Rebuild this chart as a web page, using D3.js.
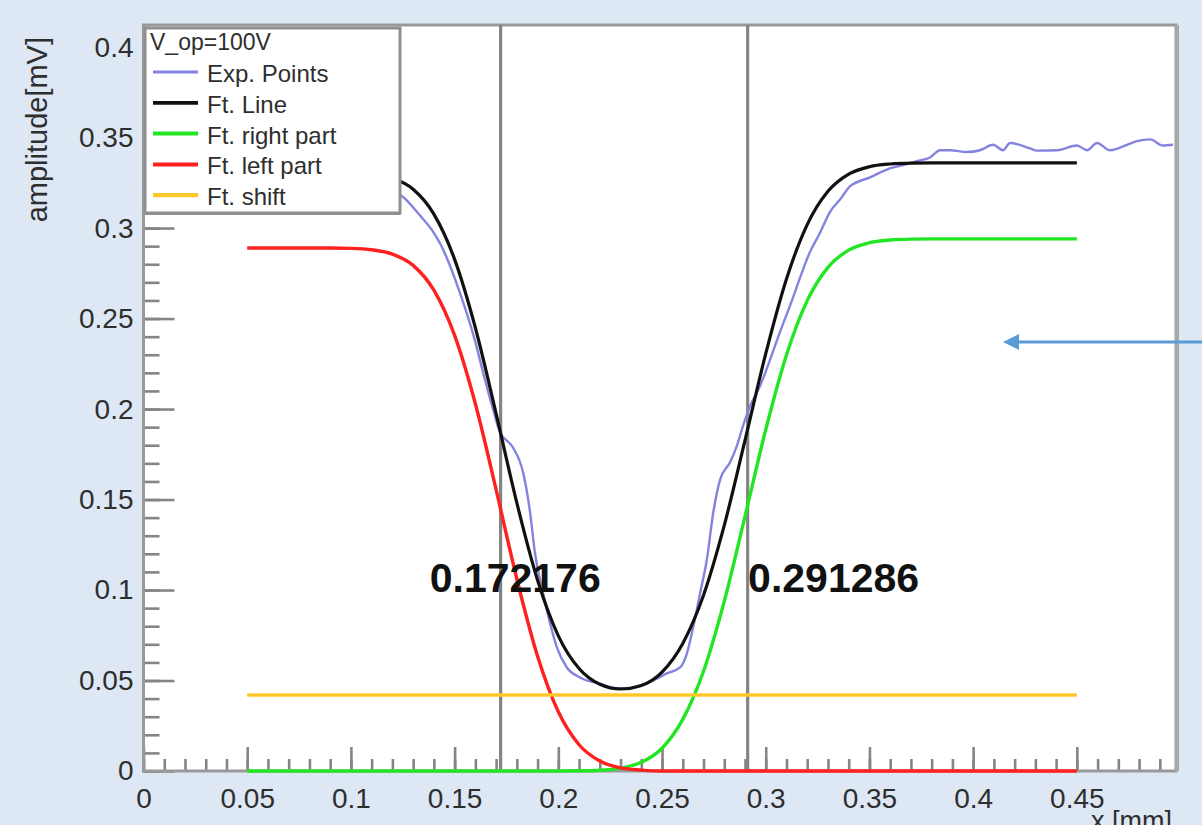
<!DOCTYPE html>
<html>
<head>
<meta charset="utf-8">
<script src="https://cdn.jsdelivr.net/npm/d3@7.9.0/dist/d3.min.js"></script>
<style>
  html, body { margin: 0; padding: 0; background: #dde8f4; }
  svg { display: block; font-family: "Liberation Sans", Arial, sans-serif; }
</style>
</head>
<body>
<svg id="chart" width="1202" height="825"></svg>
<script>
// ---------- data ----------
const xTicks = [0, 0.05, 0.1, 0.15, 0.2, 0.25, 0.3, 0.35, 0.4, 0.45];
const yTicks = [0, 0.05, 0.1, 0.15, 0.2, 0.25, 0.3, 0.35, 0.4];

// Exp. Points (noisy measured curve)
const expX = [0, 0.01, 0.02, 0.03, 0.04, 0.05, 0.06, 0.07, 0.08, 0.09, 0.1, 0.11, 0.118,
  0.1242, 0.1333, 0.1396, 0.1434, 0.1526, 0.16, 0.1645, 0.1685, 0.1719, 0.178, 0.183,
  0.1864, 0.1887, 0.1927, 0.196, 0.1993, 0.2041, 0.2104, 0.22, 0.2283, 0.236, 0.2457,
  0.2523, 0.2587, 0.262, 0.265, 0.2683, 0.2716, 0.2747, 0.278, 0.2828, 0.286, 0.289,
  0.2925, 0.2973, 0.302, 0.307, 0.312, 0.317, 0.321, 0.326, 0.331, 0.336, 0.3406,
  0.3503, 0.3599, 0.3671, 0.3729, 0.3792, 0.384, 0.3888, 0.397, 0.4033, 0.4096, 0.4144,
  0.4178, 0.4274, 0.4308, 0.4405, 0.4501, 0.4549, 0.4597, 0.466, 0.4742, 0.479, 0.4853,
  0.4915, 0.4964];
const expY = [0.322, 0.324, 0.323, 0.325, 0.324, 0.326, 0.325, 0.326, 0.325, 0.326, 0.325, 0.324, 0.321,
  0.318, 0.307, 0.298, 0.2906, 0.264, 0.237, 0.2167, 0.2, 0.187, 0.179, 0.165,
  0.1428, 0.1206, 0.098, 0.0817, 0.0683, 0.0572, 0.0517, 0.0483, 0.0456, 0.046, 0.05,
  0.0539, 0.0572, 0.065, 0.0794, 0.098, 0.1167, 0.1428, 0.161, 0.1706, 0.1794, 0.1906,
  0.2017, 0.2128, 0.227, 0.243, 0.258, 0.274, 0.286, 0.297, 0.309, 0.316, 0.323,
  0.328, 0.333, 0.335, 0.337, 0.339, 0.343, 0.343, 0.342, 0.343, 0.346, 0.343,
  0.347, 0.344, 0.3428, 0.343, 0.3456, 0.343, 0.347, 0.343, 0.346, 0.348, 0.349,
  0.3456, 0.346];

// fit curves, sampled every 0.01 from 0.05 to 0.45
const fitX = [0.05, 0.06, 0.07, 0.08, 0.09, 0.1, 0.11, 0.12, 0.13, 0.14, 0.15, 0.16, 0.17,
  0.18, 0.19, 0.2, 0.21, 0.22, 0.23, 0.24, 0.25, 0.26, 0.27, 0.28, 0.29, 0.3, 0.31, 0.32,
  0.33, 0.34, 0.35, 0.36, 0.37, 0.38, 0.39, 0.4, 0.41, 0.42, 0.43, 0.44, 0.45];
const fitLine = [0.331, 0.331, 0.331, 0.331, 0.331, 0.3308, 0.33, 0.3276, 0.3214, 0.3077, 0.2827, 0.2449, 0.1975,
  0.1481, 0.1054, 0.0747, 0.0566, 0.0479, 0.0453, 0.0473, 0.0547, 0.0705, 0.0971, 0.1357, 0.1827, 0.2306, 0.2719, 0.3019,
  0.3203, 0.3298, 0.3339, 0.3354, 0.3359, 0.336, 0.336, 0.336, 0.336, 0.336, 0.336, 0.336, 0.336];
const rightPart = [0, 0, 0, 0, 0, 0, 0, 0, 0, 0, 0, 0, 0,
  0, 0, 0, 0.0001, 0.0004, 0.0016, 0.0048, 0.0126, 0.0285, 0.0551, 0.0937, 0.1407, 0.1886, 0.2299, 0.2599,
  0.2783, 0.2878, 0.2919, 0.2934, 0.2939, 0.294, 0.294, 0.294, 0.294, 0.294, 0.294, 0.294, 0.294];
const leftPart = [0.289, 0.289, 0.289, 0.289, 0.289, 0.2888, 0.288, 0.2856, 0.2794, 0.2657, 0.2407, 0.2029, 0.1555,
  0.1061, 0.0634, 0.0327, 0.0145, 0.0055, 0.0017, 0.0005, 0, 0, 0, 0, 0, 0, 0, 0,
  0, 0, 0, 0, 0, 0, 0, 0, 0, 0, 0, 0, 0];
const shiftX = [0.05, 0.45];
const shiftY = [0.042, 0.042];

// edge positions from the fit
const edgeX = [0.172176, 0.291286];
const edgeLabelX = [0.138, 0.2915];
const edgeLabelY = 0.099;

const legendHeader = 'V_op=100V';
const legendLabels = ['Exp. Points', 'Ft. Line', 'Ft. right part', 'Ft. left part', 'Ft. shift'];
const legendColors = ['#8484e0', '#111111', '#22e622', '#ff2020', '#ffc82a'];
const legendWidths = [2.4, 3.2, 3.4, 3.4, 3.6];

// ---------- layout ----------
const svg = d3.select('#chart');
const frame = { left: 143.5, right: 1176, top: 25, bottom: 771 };
const font = '"Liberation Sans", Arial, sans-serif';

const x = d3.scaleLinear().domain([0, 0.4978]).range([frame.left, frame.right]);
const y = d3.scaleLinear().domain([0, 0.4122]).range([frame.bottom, frame.top]);

svg.append('rect')
  .attr('x', frame.left).attr('y', frame.top)
  .attr('width', frame.right - frame.left).attr('height', frame.bottom - frame.top)
  .attr('fill', '#ffffff');

// ---------- ticks (ROOT style, inside the frame) ----------
const tickColor = '#858585';
function styleTicks(g) {
  g.select('.domain').remove();
  g.selectAll('line').attr('stroke', tickColor).attr('stroke-width', 2.6);
  g.selectAll('text').remove();
}

const xMinor = d3.range(0, 50).map((i) => i / 100);
const yMinor = d3.range(0, 42).map((i) => i / 100);

svg.append('g').attr('transform', `translate(0,${frame.bottom})`)
  .call(d3.axisBottom(x).tickValues(xMinor).tickSize(-12)).call(styleTicks);
svg.append('g').attr('transform', `translate(0,${frame.bottom})`)
  .call(d3.axisBottom(x).tickValues(xTicks).tickSize(-24)).call(styleTicks);
svg.append('g').attr('transform', `translate(${frame.left},0)`)
  .call(d3.axisLeft(y).tickValues(yMinor).tickSize(-16)).call(styleTicks);
svg.append('g').attr('transform', `translate(${frame.left},0)`)
  .call(d3.axisLeft(y).tickValues(yTicks).tickSize(-31)).call(styleTicks);

// ---------- frame ----------
svg.append('rect')
  .attr('x', frame.left).attr('y', frame.top)
  .attr('width', frame.right - frame.left).attr('height', frame.bottom - frame.top)
  .attr('fill', 'none').attr('stroke', '#999999').attr('stroke-width', 3);
svg.append('line')
  .attr('x1', frame.right + 1).attr('x2', frame.right + 1)
  .attr('y1', frame.top).attr('y2', frame.bottom)
  .attr('stroke', '#a8a8a8').attr('stroke-width', 4);

// ---------- tick labels ----------
const xLab = svg.append('g').attr('transform', `translate(0,${frame.bottom})`)
  .call(d3.axisBottom(x).tickValues(xTicks).tickSize(0).tickPadding(17).tickFormat(d3.format('')));
xLab.select('.domain').remove();
xLab.selectAll('text').attr('font-size', 28).attr('fill', '#2e2e2e').attr('font-family', font);

const yLab = svg.append('g').attr('transform', `translate(${frame.left},0)`)
  .call(d3.axisLeft(y).tickValues(yTicks).tickSize(0).tickPadding(10).tickFormat(d3.format('')));
yLab.select('.domain').remove();
yLab.selectAll('text').attr('font-size', 28).attr('fill', '#2e2e2e').attr('font-family', font);

// axis titles
svg.append('text')
  .attr('transform', 'translate(47,37) rotate(-90)')
  .attr('text-anchor', 'end')
  .attr('font-size', 29).attr('fill', '#2e2e2e')
  .text('amplitude[mV]');

svg.append('text')
  .attr('x', 1172).attr('y', 830)
  .attr('text-anchor', 'end')
  .attr('font-size', 27).attr('fill', '#2e2e2e')
  .text('x [mm]');

// ---------- curves ----------
const plot = svg.append('g');

plot.selectAll('.edge').data(edgeX).join('line')
  .attr('class', 'edge')
  .attr('x1', (d) => x(d)).attr('x2', (d) => x(d))
  .attr('y1', y(0)).attr('y2', frame.top)
  .attr('stroke', '#848484').attr('stroke-width', 3.2);

const line = d3.line().curve(d3.curveMonotoneX)
  .x((d) => x(d[0])).y((d) => y(d[1]));

function drawCurve(xs, ys, color, width) {
  plot.append('path')
    .datum(d3.zip(xs, ys))
    .attr('d', line)
    .attr('fill', 'none')
    .attr('stroke', color)
    .attr('stroke-width', width)
    .attr('stroke-linejoin', 'round');
}

drawCurve(expX, expY, legendColors[0], legendWidths[0]);
drawCurve(fitX, fitLine, legendColors[1], legendWidths[1]);
drawCurve(fitX, rightPart, legendColors[2], legendWidths[2]);
drawCurve(fitX, leftPart, legendColors[3], legendWidths[3]);
drawCurve(shiftX, shiftY, legendColors[4], legendWidths[4]);

// edge value labels
svg.selectAll('.edgeLabel').data(edgeX).join('text')
  .attr('class', 'edgeLabel')
  .attr('x', (d, i) => x(edgeLabelX[i]))
  .attr('y', y(edgeLabelY))
  .attr('font-size', 41).attr('font-weight', 'bold').attr('fill', '#111')
  .text((d) => d3.format('.6f')(d));

// ---------- legend ----------
const lg = svg.append('g').attr('transform', 'translate(145,28)');
lg.append('rect')
  .attr('width', 255).attr('height', 185)
  .attr('fill', '#ffffff').attr('stroke', '#8f8f8f').attr('stroke-width', 3);
lg.append('line')
  .attr('x1', 0).attr('x2', 255).attr('y1', 186).attr('y2', 186)
  .attr('stroke', '#8f8f8f').attr('stroke-width', 2);
lg.append('text')
  .attr('x', 5).attr('y', 22)
  .attr('font-size', 23).attr('fill', '#2e2e2e')
  .text(legendHeader);

const rows = lg.selectAll('.row').data(legendLabels).join('g')
  .attr('class', 'row')
  .attr('transform', (d, i) => `translate(0,${54 + i * 30.8})`);
rows.append('line')
  .attr('x1', 8).attr('x2', 53).attr('y1', -10).attr('y2', -10)
  .attr('stroke', (d, i) => legendColors[i])
  .attr('stroke-width', (d, i) => legendWidths[i] + 0.6);
rows.append('text')
  .attr('x', 62).attr('y', 0)
  .attr('font-size', 24).attr('fill', '#2e2e2e')
  .text((d) => d);

// ---------- annotation arrow ----------
const arrowY = 342, arrowTip = 1003;
svg.append('line')
  .attr('x1', 1202).attr('x2', arrowTip + 12)
  .attr('y1', arrowY).attr('y2', arrowY)
  .attr('stroke', '#5b9bd5').attr('stroke-width', 2.8);
svg.append('path')
  .attr('d', `M${arrowTip},${arrowY} L${arrowTip + 16},${arrowY - 8} L${arrowTip + 16},${arrowY + 8} Z`)
  .attr('fill', '#5b9bd5');
</script>
</body>
</html>
